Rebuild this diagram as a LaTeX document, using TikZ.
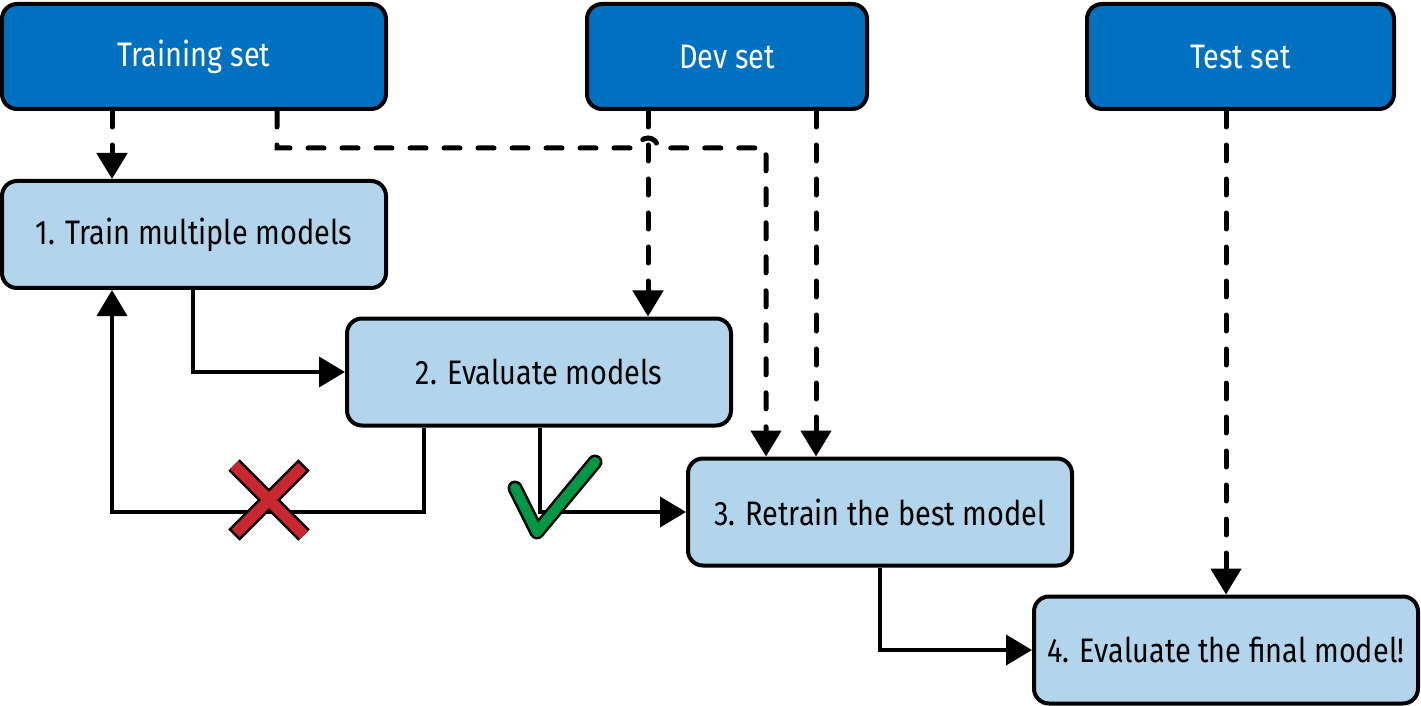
\documentclass[tikz,border=0pt]{standalone}
\usepackage{fontspec}
\setmainfont[FakeStretch=0.85]{Fira Sans}
\usepackage{xcolor}
\usepackage{tikz}
\usetikzlibrary{arrows.meta, positioning, calc}
\definecolor{SetBlue}{HTML}{0070C0}
\definecolor{StepBlue}{HTML}{B3D5EB}
\definecolor{OkGreen}{HTML}{009845}
\definecolor{NoRed}{HTML}{C8272F}
\tikzset{
    setbox/.style={rectangle, rounded corners=7.5pt, minimum width=192pt, minimum height=52.5pt,
        text centered, inner sep=0pt, draw=black, line width=2pt, fill=SetBlue, text=white,
        font=\fontsize{17}{20}\selectfont},
    stepbox/.style={rectangle, rounded corners=7.5pt, minimum width=192pt, minimum height=53.5pt,
        text centered, inner sep=0pt, draw=black, line width=2pt, fill=StepBlue, text=black,
        font=\fontsize{17}{20}\selectfont},
    dataarrow/.style={-{Triangle[width=15pt,length=13pt]}, line width=2.5pt, line cap=round,
        dash pattern=on 8pt off 9pt},
    steparrow/.style={-{Triangle[width=15pt,length=13pt]}, line width=2pt},
}

\begin{document}
\begin{tikzpicture}[x=0.5pt, y=-0.5pt]
    \useasboundingbox (0,0) rectangle (1421,706);

    \node[setbox] (trainset) at (194,56.5) {Training set};
    \node[setbox, minimum width=140pt] (devset) at (727,56.5) {Dev set};
    \node[setbox, minimum width=153.5pt] (testset) at (1240.5,56.5) {Test set};

    \node[stepbox] (train) at (194,234.5) {1. Train multiple models};
    \node[stepbox] (eval) at (539,372) {2. Evaluate models};
    \node[stepbox] (retrain) at (880,512) {3. Retrain the best model};
    \node[stepbox] (final) at (1226,650) {4. Evaluate the final model!};

    % where the lines leave and reach the boxes
    \coordinate (xa) at (112,0);
    \coordinate (xb) at (277,0);
    \coordinate (xc) at (766,0);
    \coordinate (xd) at (648,0);
    \coordinate (xe) at (816,0);
    \coordinate (xf) at (1226,0);
    \coordinate (xg) at (193,0);
    \coordinate (xh) at (424,0);
    \coordinate (xi) at (540,0);
    \coordinate (xj) at (880,0);
    \coordinate (hop) at (638,148);
    \coordinate (back) at (112,512);

    % data flow
    \draw[dataarrow] (trainset.south -| xa) -- (train.north -| xa);
    \draw[dataarrow] (trainset.south -| xb) |- (hop)
        arc[start angle=180, end angle=360, radius=10] -| (retrain.north -| xc);
    \draw[dataarrow] (devset.south -| xd) -- (eval.north -| xd);
    \draw[dataarrow] (devset.south -| xe) -- (retrain.north -| xe);
    \draw[dataarrow] (testset.south -| xf) -- (final.north -| xf);

    % steps
    \draw[steparrow] (train.south -| xg) |- (eval.west);
    \draw[steparrow] (eval.south -| xh) |- (back) -- (train.south -| xa);
    \draw[steparrow] (eval.south -| xi) |- (retrain.west);
    \draw[steparrow] (retrain.south -| xj) |- (final.west);

    % cross
    \draw[line width=8pt] (234,465) -- (304,535) (234,535) -- (304,465);
    \draw[line width=5.5pt, NoRed, shorten <=1.3pt, shorten >=1.3pt]
        (234,465) -- (304,535) (234,535) -- (304,465);

    % tick
    \draw[line width=7.5pt, line cap=round, line join=round] (515,488) -- (537,532) -- (595,462);
    \draw[line width=5pt, OkGreen, line cap=round, line join=round] (515,488) -- (537,532) -- (595,462);
\end{tikzpicture}
\end{document}
